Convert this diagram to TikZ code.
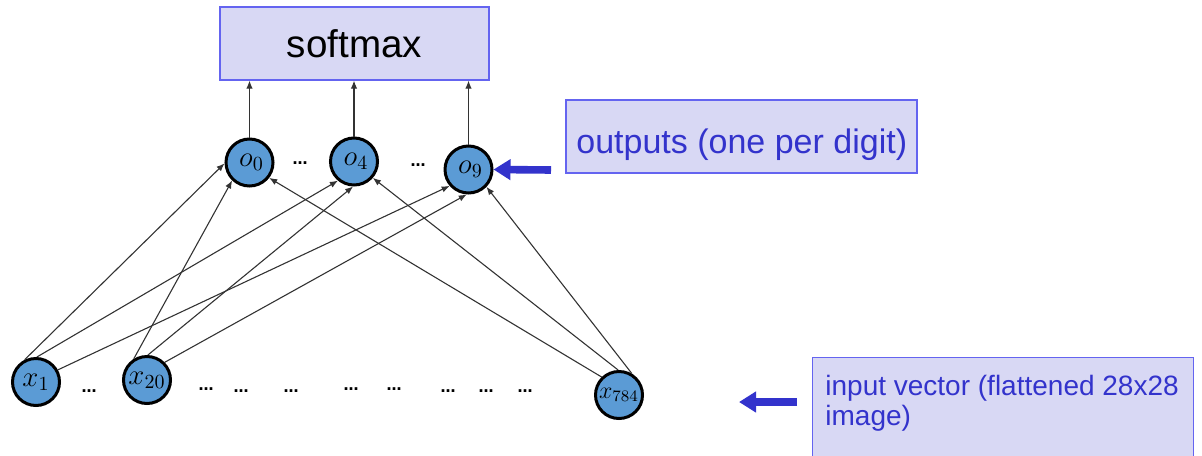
\documentclass[tikz,border=0pt]{standalone}
\usepackage{fontspec}
\setmainfont{Liberation Sans}
\newfontfamily\dotfont{DejaVu Sans}
\usetikzlibrary{arrows.meta}
\definecolor{boxfill}{RGB}{216,216,244}
\definecolor{boxline}{RGB}{100,100,240}
\definecolor{notetext}{RGB}{51,51,204}
\definecolor{unitfill}{RGB}{91,155,213}
\begin{document}
\begin{tikzpicture}[x=0.5pt,y=-0.5pt,
  unit/.style={circle,draw=black,line width=1.5pt,fill=unitfill,minimum size=23.5pt,
    inner sep=0pt,font=\fontsize{14.5}{16}\selectfont},
  wire/.style={draw=black!80,line width=0.55pt,-{Latex[length=4pt,width=3.2pt]}},
  notebox/.style={draw=boxline,line width=0.6pt,fill=boxfill,inner sep=0pt},
  pointer/.style={draw=notetext,line width=3.8pt,-{Triangle[length=8.5pt,width=10pt]}},
  gap/.style={font=\dotfont\fontsize{7.5}{8}\selectfont\bfseries,inner sep=0pt}
]
\clip (0,0) rectangle (1202,455);

% softmax layer
\node[notebox,minimum width=134.5pt,minimum height=36.5pt,
      font=\fontsize{19.3}{22}\selectfont] (smx) at (354.5,43.5) {softmax};

% output units
\node[unit] (o0) at (249.5,162.5) {\hspace{2pt}$o_0$};
\node[unit] (o4) at (354,161.5) {\hspace{2pt}$o_4$};
\node[unit] (o9) at (468.5,169.5) {\hspace{2pt}$o_9$};
\node[gap] (od1) at (300,163) {…};
\node[gap] (od2) at (418,165) {…};

% input units
\node[unit] (x1) at (36,382) {$x_1$};
\node[unit] (x20) at (147,380) {$x_{20}$};
\node[unit,font=\fontsize{12}{14}\selectfont] (x784) at (619,395) {$x_{784}$};
\foreach \name/\px/\py in {a/89/391,b/206/389,c/241/391,d/291/391,e/351/389,
                           f/394/389,g/448/391,h/486/391,i/525/391}
  \node[gap] (id\name) at (\px,\py) {…};

% outputs feed the softmax
\foreach \o in {o0,o4,o9}
  \draw[wire] (\o) -- (\o |- smx.south);

% fully connected weights
\draw[wire] (x1.117) -- (o0.182);
\draw[wire] (x1.88) -- (o4.230);
\draw[wire] (x1.29) -- (o9.221);
\draw[wire] (x20.122) -- (o0.226);
\draw[wire] (x20.88) -- (o4.268);
\draw[wire] (x20.45) -- (o9.266);
\draw[wire] (x784.134) -- (o0.322);
\draw[wire] (x784.92) -- (o4.319);
\draw[wire] (x784.59) -- (o9.316);

% annotations
\node[notebox,minimum width=175.5pt,minimum height=36.5pt] (outbox) at (741.5,136.5) {};
\node[anchor=base west,inner sep=0pt,text=notetext,font=\fontsize{17}{20}\selectfont]
  (outtext) at (576,153) {outputs (one per digit)};
\coordinate (outtail) at (551,170);
\draw[pointer] (outtail) -- (o9.east);

\node[notebox,minimum width=190.5pt,minimum height=60pt,anchor=north west] (inbox) at (812,357) {};
\node[anchor=north west,inner sep=0pt,align=left,text=notetext,font=\fontsize{14}{15}\selectfont]
  (intext) at (825,374.6) {input vector (flattened 28x28\\image)};
\coordinate (intail) at (797,402);
\coordinate (intip) at (739,402);
\draw[pointer] (intail) -- (intip);
\end{tikzpicture}
\end{document}
